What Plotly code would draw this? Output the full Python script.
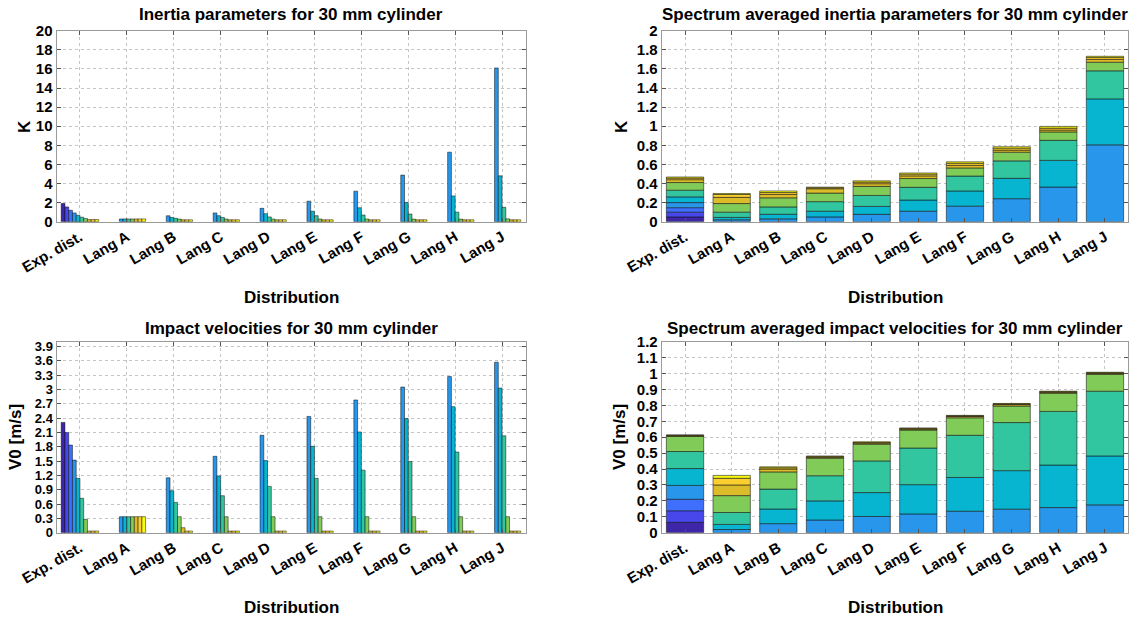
import numpy as np
import plotly.graph_objects as go

categories = ["Exp. dist.", "Lang A", "Lang B", "Lang C", "Lang D",
              "Lang E", "Lang F", "Lang G", "Lang H", "Lang J"]

# Inertia parameter K per distribution (10 spectrum bins each)
inertia_K = [
    [1.9, 1.55, 1.2, 0.92, 0.68, 0.47, 0.33, 0.22, 0.22, 0.22],
    [0, 0, 0, 0.29, 0.29, 0.29, 0.29, 0.29, 0.29, 0.29],
    [0, 0, 0, 0.62, 0.45, 0.35, 0.27, 0.2, 0.2, 0.2],
    [0, 0, 0, 0.92, 0.63, 0.45, 0.28, 0.2, 0.2, 0.2],
    [0, 0, 0, 1.4, 0.84, 0.5, 0.28, 0.2, 0.2, 0.2],
    [0, 0, 0, 2.15, 1.1, 0.63, 0.28, 0.2, 0.2, 0.2],
    [0, 0, 0, 3.2, 1.46, 0.7, 0.28, 0.2, 0.2, 0.2],
    [0, 0, 0, 4.88, 2.02, 0.8, 0.27, 0.2, 0.2, 0.2],
    [0, 0, 0, 7.28, 2.7, 1.0, 0.27, 0.2, 0.2, 0.2],
    [0, 0, 0, 16.1, 4.8, 1.5, 0.3, 0.2, 0.2, 0.2],
]

# Impact velocities V0 [m/s]
velocity_V0 = [
    [2.31, 2.10, 1.835, 1.52, 1.14, 0.72, 0.28, 0.035, 0.035, 0.035],
    [0, 0, 0, 0.335, 0.335, 0.335, 0.335, 0.335, 0.335, 0.335],
    [0, 0, 0, 1.15, 0.88, 0.635, 0.335, 0.105, 0.035, 0.035],
    [0, 0, 0, 1.6, 1.19, 0.775, 0.335, 0.035, 0.035, 0.035],
    [0, 0, 0, 2.04, 1.51, 0.97, 0.335, 0.035, 0.035, 0.035],
    [0, 0, 0, 2.435, 1.81, 1.14, 0.335, 0.035, 0.035, 0.035],
    [0, 0, 0, 2.78, 2.11, 1.31, 0.335, 0.035, 0.035, 0.035],
    [0, 0, 0, 3.05, 2.39, 1.49, 0.335, 0.035, 0.035, 0.035],
    [0, 0, 0, 3.27, 2.64, 1.69, 0.335, 0.035, 0.035, 0.035],
    [0, 0, 0, 3.57, 3.03, 2.03, 0.335, 0.035, 0.035, 0.035],
]

# Spectrum-averaged contributions (stack segments) for K
avg_K = [
    [0.05, 0.05, 0.047, 0.053, 0.06, 0.07, 0.08, 0.03, 0.017, 0.011],
    [0, 0, 0, 0.02, 0.025, 0.055, 0.09, 0.065, 0.03, 0.01],
    [0, 0, 0, 0.03, 0.048, 0.077, 0.095, 0.035, 0.02, 0.017],
    [0, 0, 0, 0.05, 0.06, 0.10, 0.09, 0.045, 0.01, 0.007],
    [0, 0, 0, 0.077, 0.083, 0.115, 0.095, 0.028, 0.017, 0.013],
    [0, 0, 0, 0.11, 0.117, 0.133, 0.092, 0.028, 0.018, 0.012],
    [0, 0, 0, 0.163, 0.159, 0.156, 0.085, 0.027, 0.022, 0.015],
    [0, 0, 0, 0.241, 0.213, 0.183, 0.091, 0.022, 0.02, 0.015],
    [0, 0, 0, 0.363, 0.279, 0.21, 0.088, 0.02, 0.02, 0.018],
    [0, 0, 0, 0.805, 0.481, 0.294, 0.09, 0.03, 0.02, 0.012],
]

# Spectrum-averaged contributions (stack segments) for V0
avg_V0 = [
    [0.065, 0.073, 0.072, 0.087, 0.106, 0.107, 0.095, 0.004, 0.003, 0.002],
    [0, 0, 0, 0.02, 0.032, 0.075, 0.106, 0.067, 0.042, 0.018],
    [0, 0, 0, 0.057, 0.092, 0.125, 0.108, 0.018, 0.008, 0.006],
    [0, 0, 0, 0.08, 0.12, 0.158, 0.11, 0.006, 0.004, 0.004],
    [0, 0, 0, 0.102, 0.15, 0.199, 0.105, 0.007, 0.004, 0.004],
    [0, 0, 0, 0.118, 0.184, 0.23, 0.113, 0.006, 0.004, 0.003],
    [0, 0, 0, 0.135, 0.212, 0.265, 0.11, 0.008, 0.004, 0.003],
    [0, 0, 0, 0.148, 0.242, 0.302, 0.104, 0.009, 0.004, 0.003],
    [0, 0, 0, 0.158, 0.267, 0.337, 0.114, 0.006, 0.004, 0.003],
    [0, 0, 0, 0.175, 0.307, 0.407, 0.106, 0.006, 0.004, 0.003],
]

bin_colors = ["rgb(62,38,168)", "rgb(71,71,235)", "rgb(62,111,255)",
              "rgb(39,150,235)", "rgb(8,181,208)", "rgb(49,198,159)",
              "rgb(129,204,89)", "rgb(220,189,41)", "rgb(252,207,48)",
              "rgb(249,251,14)"]

FONT = "Arial, Liberation Sans, sans-serif"
fig = go.Figure()


def nz(arr):
    return [v if v > 0 else None for v in arr]


def grouped(data, xa, ya):
    d = np.array(data, dtype=float).T
    for i in range(d.shape[0]):
        fig.add_trace(go.Bar(
            x=categories, y=nz(d[i]), xaxis=xa, yaxis=ya,
            marker=dict(color=bin_colors[i],
                        line=dict(color="rgba(0,0,0,0.8)", width=0.6)),
            showlegend=False, hoverinfo="skip"))


def stacked(data, xa, ya):
    d = np.array(data, dtype=float).T
    base = np.zeros(d.shape[1])
    for i in range(d.shape[0]):
        fig.add_trace(go.Bar(
            x=categories, y=nz(d[i]), base=base.copy(), xaxis=xa, yaxis=ya,
            offsetgroup="stack_" + xa,
            marker=dict(color=bin_colors[i],
                        line=dict(color="rgba(20,20,20,0.7)", width=0.8)),
            showlegend=False, hoverinfo="skip"))
        base = base + d[i]


grouped(inertia_K, "x", "y")
stacked(avg_K, "x2", "y2")
grouped(velocity_V0, "x3", "y3")
stacked(avg_V0, "x4", "y4")

W, H = 1143, 619
left_dom = [56.5 / W, 525.5 / W]
right_dom = [661.7 / W, 1128.3 / W]
top_dom = [1 - 221.7 / H, 1 - 30.7 / H]
bot_dom = [1 - 532.7 / H, 1 - 341.7 / H]


def tf(size):
    return dict(family=FONT, size=size, color="black", weight="bold")


def xax(dom, anchor):
    return dict(domain=dom, anchor=anchor, type="category", automargin=False,
                range=[-0.5, 9.5], tickangle=-30, tickfont=tf(15),
                showgrid=True, gridcolor="#c4c4c4", griddash="dot", gridwidth=1,
                showline=True, linecolor="#9a9a9a", linewidth=1, mirror="ticks",
                ticks="inside", ticklen=4, tickcolor="#555", zeroline=False)


def yax(dom, anchor, rng, dt, tv=None, fs=15):
    d = dict(domain=dom, anchor=anchor, range=rng, tickfont=tf(fs),
             automargin=False,
             showgrid=True, gridcolor="#c4c4c4", griddash="dot", gridwidth=1,
             showline=True, linecolor="#9a9a9a", linewidth=1, mirror="ticks",
             ticks="inside", ticklen=4, tickcolor="#555", zeroline=False)
    if tv is not None:
        d.update(tickmode="array", tickvals=tv,
                 ticktext=[("%g" % v) for v in tv])
    else:
        d.update(dtick=dt, tick0=0)
    return d


fig.update_layout(
    width=W, height=H, margin=dict(l=0, r=0, t=0, b=0, autoexpand=False),
    paper_bgcolor="white", plot_bgcolor="white",
    barmode="group", bargap=0.2, bargroupgap=0,
    font=dict(family=FONT, color="black"),
    xaxis=xax(left_dom, "y"), yaxis=yax(top_dom, "x", [0, 20], 2),
    xaxis2=xax(right_dom, "y2"), yaxis2=yax(top_dom, "x2", [0, 2], 0.2),
    xaxis3=xax(left_dom, "y3"),
    yaxis3=yax(bot_dom, "x3", [0, 4.0], 0.3,
               tv=[round(0.3 * i, 1) for i in range(14)], fs=13),
    xaxis4=xax(right_dom, "y4"), yaxis4=yax(bot_dom, "x4", [0, 1.2], 0.1),
)

titles = [
    ("Inertia parameters for 30 mm cylinder", left_dom, 15),
    ("Spectrum averaged inertia parameters for 30 mm cylinder", right_dom, 15),
    ("Impact velocities for 30 mm cylinder", left_dom, 328),
    ("Spectrum averaged impact velocities for 30 mm cylinder", right_dom, 328),
]
for txt, dom, ypx in titles:
    fig.add_annotation(text="<b>%s</b>" % txt, xref="paper", yref="paper",
                       x=(dom[0] + dom[1]) / 2, y=1 - ypx / H,
                       showarrow=False, xanchor="center", yanchor="middle",
                       font=dict(family=FONT, size=17, color="black"))

for dom, ypx in [(left_dom, 297), (right_dom, 297), (left_dom, 607), (right_dom, 607)]:
    fig.add_annotation(text="<b>Distribution</b>", xref="paper", yref="paper",
                       x=(dom[0] + dom[1]) / 2, y=1 - ypx / H,
                       showarrow=False, xanchor="center", yanchor="middle",
                       font=dict(family=FONT, size=17, color="black"))

for txt, xpx, ypx in [("K", 24, 127), ("K", 621, 127),
                      ("V0 [m/s]", 15, 437), ("V0 [m/s]", 619, 437)]:
    fig.add_annotation(text="<b>%s</b>" % txt, xref="paper", yref="paper",
                       x=xpx / W, y=1 - ypx / H, textangle=-90,
                       showarrow=False, xanchor="center", yanchor="middle",
                       font=dict(family=FONT, size=17, color="black"))

fig.write_html("out.html")
